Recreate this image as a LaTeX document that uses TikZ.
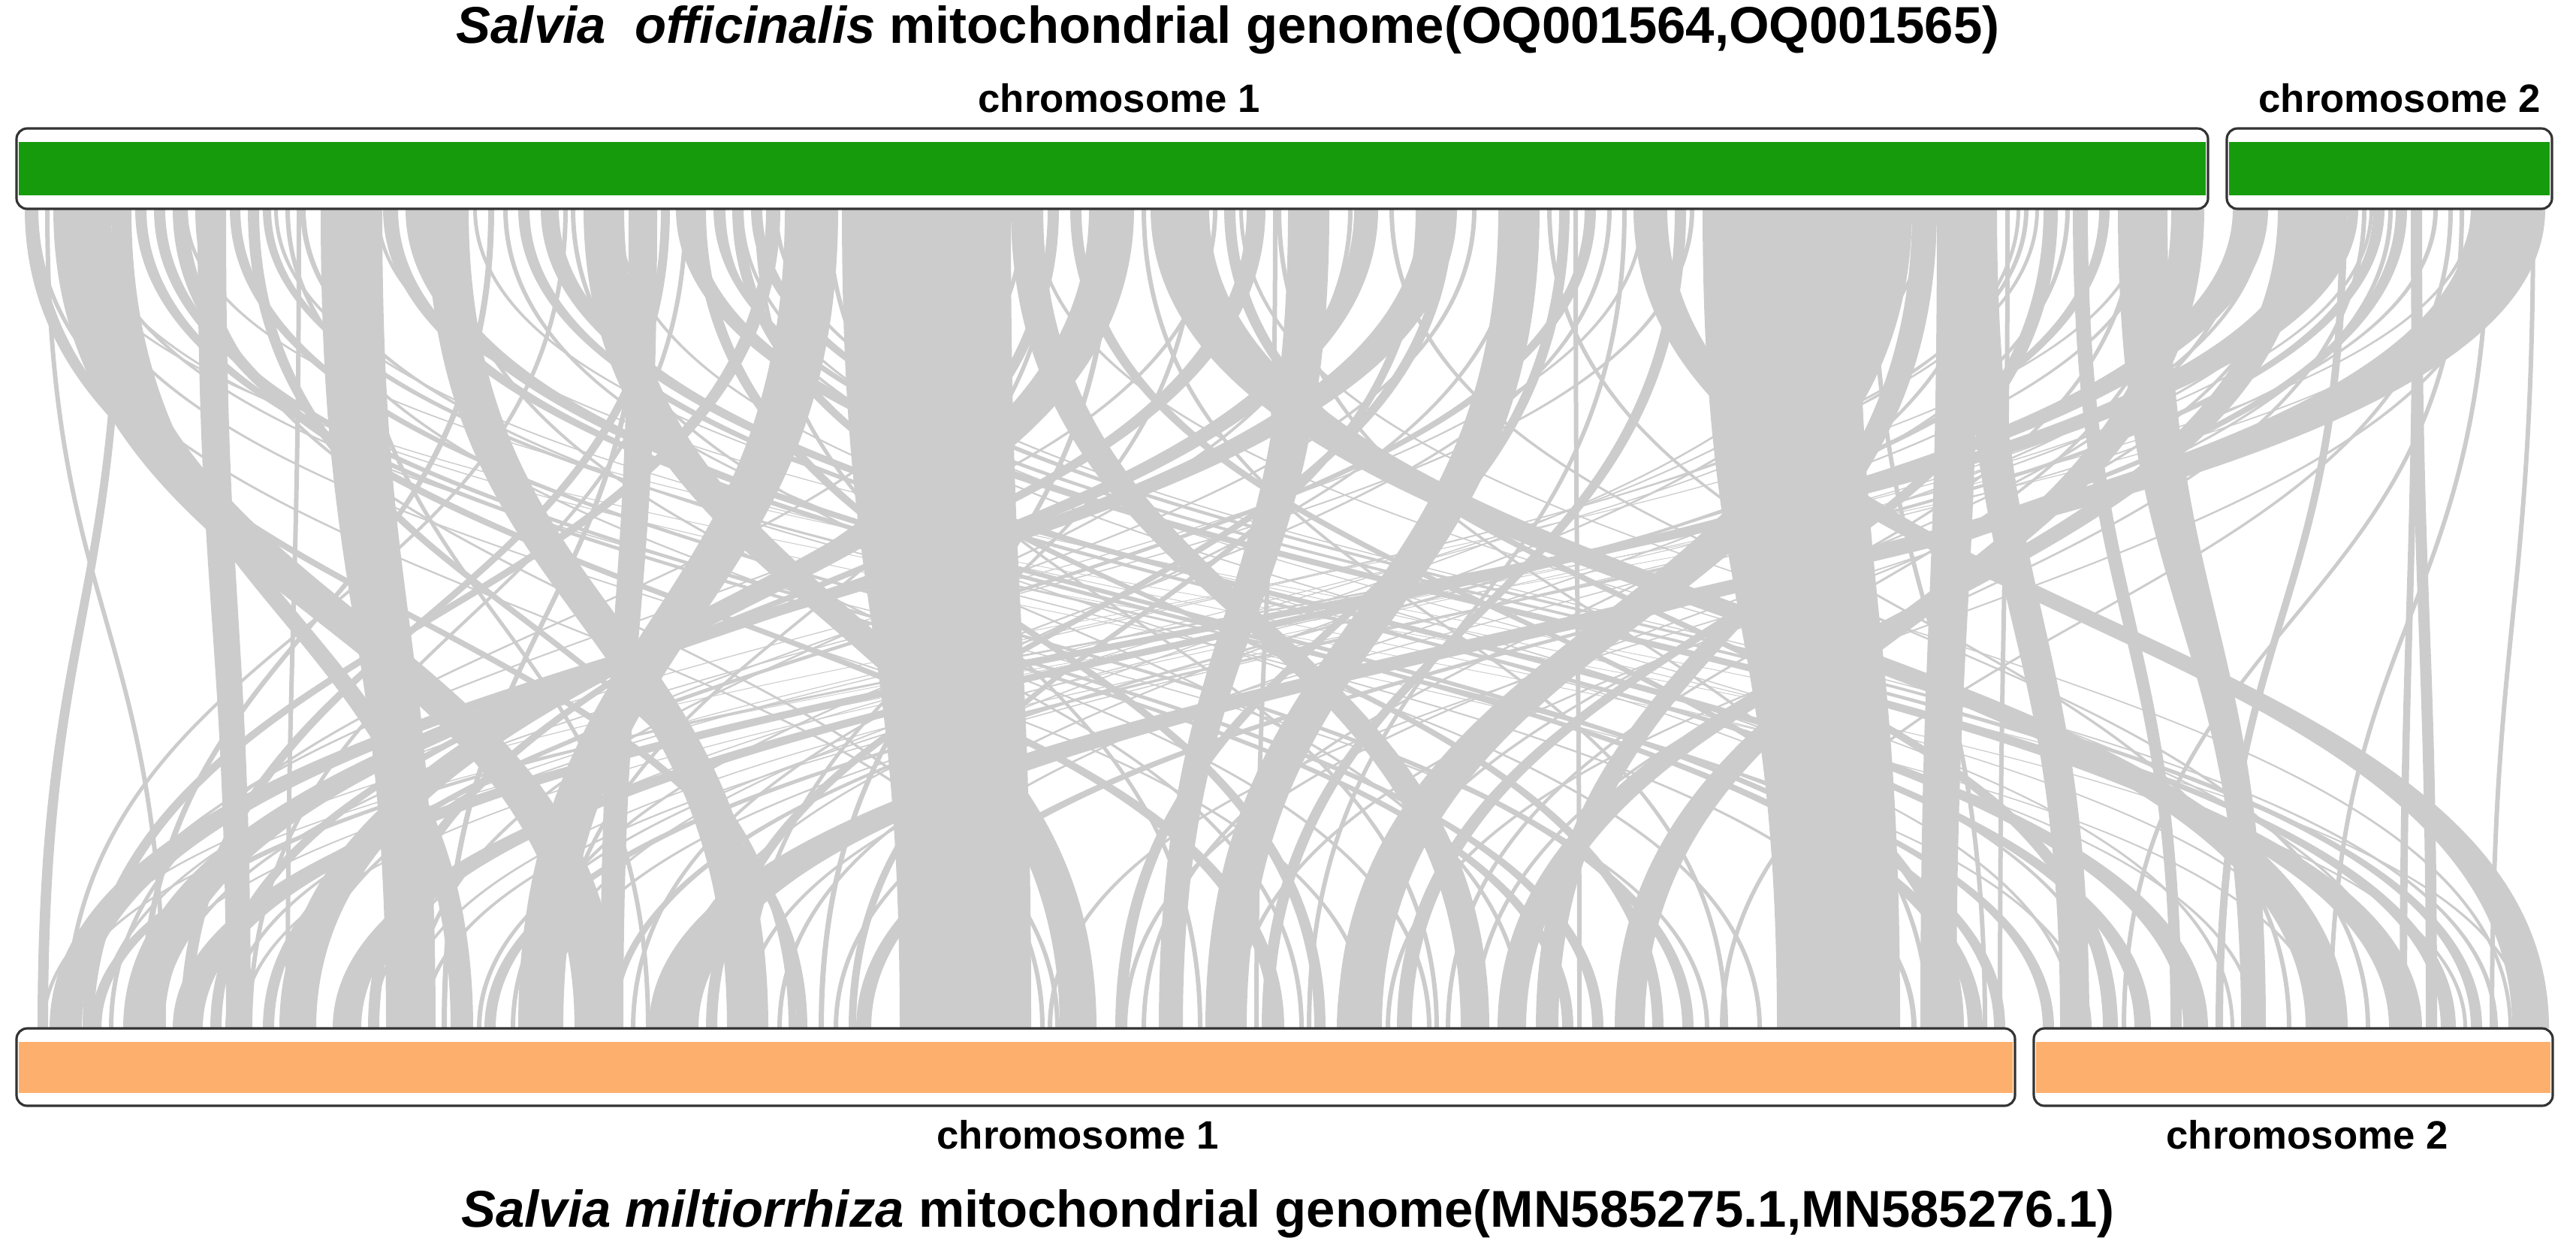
\documentclass[tikz,border=0pt]{standalone}
\usepackage{fontspec}
\setmainfont{Liberation Sans}
\definecolor{linkgrey}{RGB}{204,204,204}
\definecolor{sogreen}{RGB}{22,155,12}
\definecolor{smorange}{RGB}{253,176,110}
\tikzset{
  chrbar/.style={draw=black!80,line width=0.9pt,fill=white,rounded corners=4pt},
  chrlab/.style={font=\fontsize{15}{18}\selectfont\bfseries,inner sep=0pt,anchor=base},
  gentitle/.style={font=\fontsize{19.6}{23}\selectfont\bfseries,inner sep=0pt},
  ribbon/.style={fill=linkgrey,draw=none}
}
\begin{document}
\begin{tikzpicture}
    \useasboundingbox (0,0) rectangle (34.30,-16.59);
    \foreach \a/\b/\c/\d in {11.21/13.46/11.98/13.73, 22.67/24.75/23.66/25.30, 4.27/5.09/5.14/5.80, 2.63/3.01/3.01/3.34,
        0.71/1.48/7.65/8.25, 10.45/11.16/6.90/7.50, 19.95/20.50/16.05/16.60, 32.90/33.89/8.64/9.30,
        21.75/22.20/33.45/33.94, 13.46/13.89/19.45/19.83, 15.32/16.10/30.70/31.26, 30.33/30.72/19.94/20.32,
        28.20/28.86/29.84/30.17, 26.13/26.59/27.43/27.82, 28.91/29.35/21.50/21.90, 14.50/15.10/3.72/4.21,
        18.90/19.40/0.66/1.09, 5.69/6.24/9.68/10.23, 7.77/8.31/14.11/14.60, 8.37/8.75/7.99/8.30,
        1.48/1.75/6.00/6.30, 17.15/17.70/15.43/15.75, 18.03/18.35/1.64/2.19, 25.79/26.34/25.57/26.05,
        24.75/25.46/17.81/18.40, 29.73/30.20/4.43/4.81, 30.72/31.26/2.30/2.70, 1.55/1.65/0.50/0.64,
        0.33/0.50/10.60/10.75, 6.90/7.05/28.42/28.64, 7.20/7.44/29.07/29.40, 9.00/9.25/31.81/32.25,
        9.50/9.62/32.50/32.70, 10.00/10.15/32.90/33.05, 5.10/5.30/26.20/26.40, 5.40/5.69/26.55/26.70,
        31.26/31.40/1.20/1.35, 31.60/31.75/6.45/6.60, 31.90/32.05/11.40/11.60, 32.10/32.25/32.30/32.45,
        1.80/1.95/20.80/20.95, 2.05/2.20/21.20/21.35, 2.30/2.50/16.90/17.10, 3.06/3.20/22.40/22.55,
        3.30/3.45/10.50/10.60, 3.50/3.61/27.20/27.35, 8.80/8.92/2.40/2.55, 9.25/9.40/17.50/17.65,
        9.75/9.90/22.00/22.15, 10.20/10.39/1.10/1.25, 13.95/14.10/4.90/5.05, 14.25/14.40/26.00/26.15,
        16.30/16.45/28.00/28.20, 16.60/16.85/2.80/2.95, 18.85/18.97/11.30/11.40, 19.20/19.35/9.40/9.55,
        20.76/20.90/14.85/15.00, 21.10/21.25/3.50/3.65, 22.30/22.45/16.80/16.95, 27.21/27.40/18.60/18.80,
        27.60/27.80/28.90/29.05, 27.95/28.09/8.10/8.20, 25.46/25.79/20.45/20.75, 31.15/31.25/29.50/29.60,
        32.12/32.20/31.95/32.05}
        \fill[ribbon] (\a,-2.78) .. controls (\a,-8.235) and (\c,-8.235) .. (\c,-13.69) -- (\d,-13.69)
            .. controls (\d,-8.235) and (\b,-8.235) .. (\b,-2.78) -- cycle;
    \foreach \a/\b/\c/\d in {0.90/0.96/18.20/18.26, 1.25/1.31/22.70/22.76, 2.60/2.66/13.85/13.91, 3.80/3.86/19.00/19.06,
        4.00/4.07/25.45/25.52, 5.95/6.01/17.30/17.36, 6.50/6.58/1.85/1.93, 6.70/6.76/23.40/23.46,
        7.50/7.56/0.85/0.91, 8.55/8.62/5.88/5.95, 9.10/9.16/3.30/3.36, 9.60/9.66/28.10/28.16,
        10.05/10.11/15.95/16.01, 10.30/10.36/33.20/33.26, 13.60/13.66/1.45/1.51, 14.00/14.06/7.30/7.36,
        14.75/14.82/10.90/10.97, 15.20/15.26/22.95/23.01, 15.90/15.96/9.90/9.96, 16.15/16.21/0.95/1.01,
        17.00/17.06/25.65/25.71, 17.95/18.01/5.45/5.51, 18.50/18.56/31.50/31.56, 19.60/19.66/3.95/4.01,
        20.20/20.26/8.40/8.46, 20.60/20.66/30.45/30.51, 21.40/21.46/6.80/6.86, 21.60/21.66/17.40/17.46,
        22.50/22.56/2.10/2.16, 25.30/25.36/10.35/10.41, 26.45/26.51/15.20/15.26, 26.95/27.01/3.00/3.06,
        27.50/27.56/11.10/11.16, 28.40/28.46/17.80/17.86, 28.70/28.76/6.35/6.41, 29.00/29.06/19.25/19.31,
        29.85/29.91/14.95/15.01, 30.10/30.16/9.85/9.91, 30.50/30.56/16.40/16.46, 30.95/31.01/7.20/7.26,
        31.45/31.51/19.60/19.66, 31.80/31.86/13.95/14.01, 32.40/32.46/5.60/5.66, 32.60/32.66/22.90/22.96,
        32.75/32.81/28.25/28.31, 33.10/33.16/31.00/31.06, 33.30/33.36/18.45/18.51, 33.70/33.76/33.15/33.21,
        0.60/0.66/2.15/2.21, 24.90/24.96/26.40/26.46, 11.00/11.06/19.10/19.16, 4.60/4.66/8.60/8.66,
        20.95/21.01/21.00/21.06, 3.95/4.01/3.80/3.86, 16.95/17.01/16.70/16.76, 26.70/26.76/26.60/26.66,
        0.45/0.51/14.05/14.11, 7.60/7.66/20.25/20.31, 0.80/0.85/30.90/30.95, 1.10/1.15/27.80/27.85,
        2.45/2.50/32.80/32.85, 3.65/3.70/30.00/30.05, 5.00/5.05/33.60/33.65, 6.30/6.35/31.20/31.25,
        8.20/8.25/27.60/27.65, 9.85/9.90/29.70/29.75, 13.75/13.80/32.00/32.05, 16.50/16.55/33.40/33.45,
        33.50/33.55/1.70/1.75, 32.90/32.95/0.75/0.80, 31.55/31.60/3.20/3.25, 30.80/30.85/5.30/5.35,
        28.55/28.60/0.55/0.60, 27.10/27.15/2.60/2.65, 26.85/26.90/4.95/5.00, 25.60/25.65/7.10/7.15,
        24.95/25.00/8.90/8.95, 21.85/21.90/1.30/1.35}
        \fill[ribbon] (\a,-2.78) .. controls (\a,-8.235) and (\c,-8.235) .. (\c,-13.69) -- (\d,-13.69)
            .. controls (\d,-8.235) and (\b,-8.235) .. (\b,-2.78) -- cycle;
    \draw[chrbar] (0.22,-1.71) rectangle (29.40,-2.78);
    \fill[sogreen] (0.25,-1.89) rectangle (29.37,-2.60);
    \draw[chrbar] (29.65,-1.71) rectangle (33.98,-2.78);
    \fill[sogreen] (29.68,-1.89) rectangle (33.95,-2.60);
    \draw[chrbar] (0.22,-13.69) rectangle (26.83,-14.72);
    \fill[smorange] (0.25,-13.87) rectangle (26.80,-14.55);
    \draw[chrbar] (27.08,-13.69) rectangle (33.99,-14.72);
    \fill[smorange] (27.11,-13.87) rectangle (33.96,-14.55);
    \node[gentitle] (sotitle) at (16.35,-0.40) {\textit{Salvia\ \ officinalis} mitochondrial genome(OQ001564,OQ001565)};
    \node[chrlab] (so1) at (14.90,-1.49) {chromosome 1};
    \node[chrlab] (so2) at (31.95,-1.49) {chromosome 2};
    \node[chrlab] (sm1) at (14.35,-15.29) {chromosome 1};
    \node[chrlab] (sm2) at (30.72,-15.29) {chromosome 2};
    \node[gentitle] (smtitle) at (17.15,-16.16) {\textit{Salvia miltiorrhiza} mitochondrial genome(MN585275.1,MN585276.1)};
\end{tikzpicture}
\end{document}
